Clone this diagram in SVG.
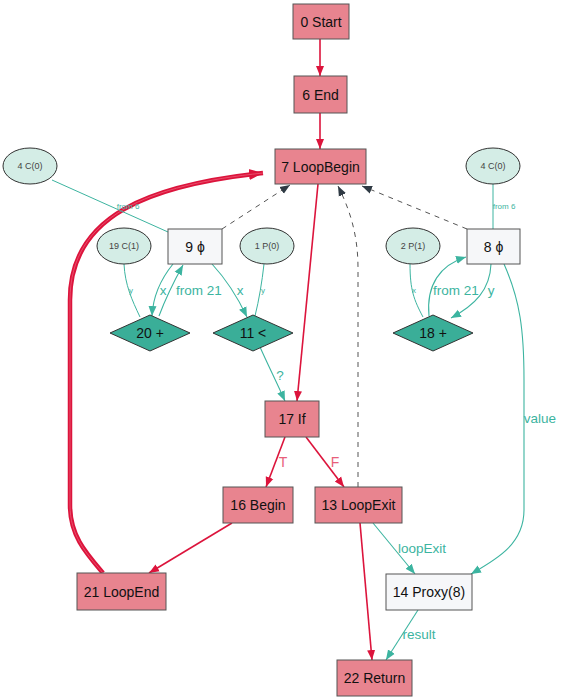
<svg xmlns="http://www.w3.org/2000/svg" width="561" height="700" viewBox="0 0 561 700">
<defs>
<marker id="ar" viewBox="0 0 10 10" refX="10" refY="5" markerWidth="10" markerHeight="10" markerUnits="userSpaceOnUse" orient="auto"><path d="M0,1 L10,5 L0,9 z" fill="#dc143c"/></marker>
<marker id="at" viewBox="0 0 10 10" refX="10" refY="5" markerWidth="10" markerHeight="10" markerUnits="userSpaceOnUse" orient="auto"><path d="M0,1 L10,5 L0,9 z" fill="#3cb4a0"/></marker>
<marker id="ag" viewBox="0 0 10 10" refX="10" refY="5" markerWidth="10" markerHeight="10" markerUnits="userSpaceOnUse" orient="auto"><path d="M0,1 L10,5 L0,9 z" fill="#2f3a44"/></marker>
<marker id="arb" viewBox="0 0 10 10" refX="10" refY="5" markerWidth="14" markerHeight="14" markerUnits="userSpaceOnUse" orient="auto"><path d="M0,1 L10,5 L0,9 z" fill="#dc143c"/></marker>
</defs>
<style>
text{font-family:"Liberation Sans",Arial,sans-serif;text-anchor:middle;dominant-baseline:central}
.ctl rect{fill:#e8848f;stroke:#555;stroke-width:1}
.phi rect{fill:#f6f7f9;stroke:#555;stroke-width:1}
.con ellipse{fill:#d4ede6;stroke:#333;stroke-width:1}
.op polygon{fill:#3aae98;stroke:#333;stroke-width:1}
.n{font-size:14px;fill:#111}
.s{font-size:9px;fill:#444}
.er{fill:none;stroke:#dc143c;stroke-width:1.6;marker-end:url(#ar)}
.et{fill:none;stroke:#3cb4a0;stroke-width:1.1;marker-end:url(#at)}
.tn{fill:none;stroke:#3cb4a0;stroke-width:1}
.ed{fill:none;stroke:#555;stroke-width:1;stroke-dasharray:5,5;marker-end:url(#ag)}
.lt{font-size:13.5px;fill:#3cb4a0}
.ls{font-size:8px;fill:#3cb4a0}
.lr{font-size:14px;fill:#e8607a}
</style>
<g id="edges">
<path class="er" d="M320,39 L320,76"/>
<path class="er" d="M320,113 L320,149"/>
<path class="er" d="M318,184 L297,401"/>
<path d="M103,573 C85,552 70,535 70,505 L70,300 C70,215 150,185 263,173" fill="none" stroke="#dc143c" stroke-width="4.5" marker-end="url(#arb)"/>
<path d="M103,573 C85,552 70,535 70,505 L70,300 C70,215 150,185 263,173" fill="none" stroke="#ec5c76" stroke-width="0.8"/>
<path class="er" d="M232,523 L149,573"/>
<path class="er" d="M285,437 L266,487"/>
<text class="lr" x="283" y="462">T</text>
<path class="er" d="M306,437 L344,487"/>
<text class="lr" x="335" y="462">F</text>
<path class="er" d="M360,523 L372,660"/>
<path class="et" d="M373,523 L415,574"/>
<text class="lt" x="422" y="548">loopExit</text>
<path class="et" d="M504,264 C520,300 524,330 524,380 L524,510 C524,545 495,560 471,574"/>
<text class="lt" x="540" y="418">value</text>
<path class="et" d="M418,610 L386,660"/>
<text class="lt" x="419" y="634">result</text>
<path class="ed" d="M358,487 L358,268 C358,235 350,210 338,186"/>
<path class="ed" d="M222,229 L290,185"/>
<path class="ed" d="M467,229 L362,186"/>
<path class="tn" d="M52,180 L168,232"/>
<text class="ls" x="128" y="206">from 6</text>
<path class="tn" d="M493,184 L493,229"/>
<text class="ls" x="504" y="206">from 6</text>
<path class="tn" d="M124,264 C125,285 132,300 140,317"/>
<text class="ls" x="131" y="290">y</text>
<path class="et" d="M173,264 C160,280 153,296 152,316"/>
<text class="lt" x="163" y="290">x</text>
<path class="et" d="M159,316 C165,300 173,283 183,265"/>
<text class="lt" x="199" y="290">from 21</text>
<path class="et" d="M212,264 C225,278 238,298 247,317"/>
<text class="lt" x="240" y="290">x</text>
<path class="tn" d="M264,264 C262,282 259,300 255,316"/>
<text class="ls" x="263" y="290">y</text>
<path class="et" d="M260,347 C268,365 277,383 285,401"/>
<text class="lt" x="280" y="375">?</text>
<path class="tn" d="M410,264 C410,290 414,300 423,317"/>
<text class="ls" x="414" y="290">x</text>
<path class="et" d="M429,316 C426,285 440,265 466,257"/>
<text class="lt" x="456" y="290">from 21</text>
<path class="et" d="M491,264 C490,290 475,305 451,318"/>
<text class="lt" x="491" y="290">y</text>
</g>
<g id="n0" class="ctl"><rect x="293" y="4" width="56" height="35"/><text class="n" x="321" y="21.5">0 Start</text></g>
<g id="n6" class="ctl"><rect x="294" y="76" width="53" height="37"/><text class="n" x="320.5" y="94.5">6 End</text></g>
<g id="n7" class="ctl"><rect x="275" y="149" width="91" height="35"/><text class="n" x="320.5" y="166.5">7 LoopBegin</text></g>
<g id="n4a" class="con"><ellipse cx="30" cy="166" rx="27" ry="18"/><text class="s" x="30" y="166">4 C(0)</text></g>
<g id="n4b" class="con"><ellipse cx="493" cy="166" rx="27" ry="18"/><text class="s" x="493" y="166">4 C(0)</text></g>
<g id="n9" class="phi"><rect x="168" y="229" width="54" height="35"/><text class="n" x="195" y="246.5">9 ϕ</text></g>
<g id="n8" class="phi"><rect x="467" y="229" width="53" height="35"/><text class="n" x="493.5" y="246.5">8 ϕ</text></g>
<g id="n19" class="con"><ellipse cx="124" cy="246" rx="27" ry="18"/><text class="s" x="124" y="246">19 C(1)</text></g>
<g id="n1" class="con"><ellipse cx="267" cy="246" rx="27" ry="18"/><text class="s" x="267" y="246">1 P(0)</text></g>
<g id="n2" class="con"><ellipse cx="413" cy="246" rx="27" ry="18"/><text class="s" x="413" y="246">2 P(1)</text></g>
<g id="n20" class="op"><polygon points="150,315 190,333 150,351 110,333"/><text class="n" x="150" y="333">20 +</text></g>
<g id="n11" class="op"><polygon points="253,315 293,333 253,351 213,333"/><text class="n" x="253" y="333">11 &lt;</text></g>
<g id="n18" class="op"><polygon points="433,315 473,333 433,351 393,333"/><text class="n" x="433" y="333">18 +</text></g>
<g id="n17" class="ctl"><rect x="265" y="401" width="54" height="36"/><text class="n" x="292" y="419">17 If</text></g>
<g id="n16" class="ctl"><rect x="223" y="487" width="70" height="36"/><text class="n" x="258" y="505">16 Begin</text></g>
<g id="n13" class="ctl"><rect x="315" y="487" width="87" height="36"/><text class="n" x="358.5" y="505">13 LoopExit</text></g>
<g id="n21" class="ctl"><rect x="77" y="573" width="89" height="37"/><text class="n" x="121.5" y="591.5">21 LoopEnd</text></g>
<g id="n14" class="phi"><rect x="386" y="574" width="86" height="36"/><text class="n" x="429" y="592">14 Proxy(8)</text></g>
<g id="n22" class="ctl"><rect x="337" y="660" width="75" height="36"/><text class="n" x="374.5" y="678">22 Return</text></g>
</svg>
